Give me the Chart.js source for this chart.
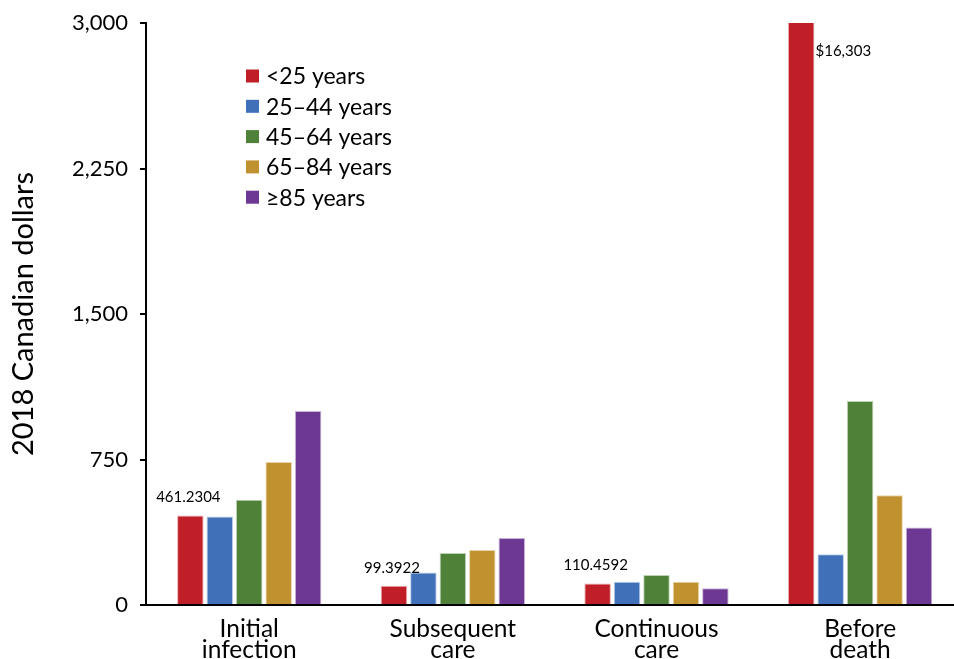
<!DOCTYPE html>
<html>
<head>
<meta charset="utf-8">
<script src="https://cdn.jsdelivr.net/npm/chart.js@4/dist/chart.umd.min.js"></script>
<style>
  html, body { margin: 0; padding: 0; background: #fff; }
  #wrap { width: 954px; height: 659px; position: relative; }
</style>
</head>
<body>
<div id="wrap"><canvas id="c" width="954" height="659"></canvas></div>
<script>
// ---- Data ----
const categories = [["Initial", "infection"], ["Subsequent", "care"], ["Continuous", "care"], ["Before", "death"]];
const seriesLabels = ["<25 years", "25\u201344 years", "45\u201364 years", "65\u201384 years", "\u226585 years"];
const under25 = [461.2304, 99.3922, 110.4592, 16303];
const age25to44 = [456, 167, 120, 262];
const age45to64 = [542, 268, 155, 1052];
const age65to84 = [737, 283, 120, 566];
const age85plus = [1000, 345, 86, 400];
const annotationTexts = ["461.2304", "99.3922", "110.4592", "$16,303"];
const yTicks = [0, 750, 1500, 2250, 3000];
const yTitle = "2018 Canadian dollars";

const colors = ["#C01F27", "#4070B8", "#4F8139", "#C0912F", "#6D3794"];
const borders = ["#E8A9AC", "#B9CCE8", "#BCD3B2", "#E9D3AA", "#C9B2DA"];
const seriesValues = [under25, age25to44, age45to64, age65to84, age85plus];

const FONT = "Lato, 'Open Sans', sans-serif";

const datasets = seriesValues.map((vals, s) => ({
  label: seriesLabels[s],
  data: vals.map((v, i) => ({ x: i, y: v })),
  backgroundColor: colors[s],
  borderColor: borders[s],
  borderWidth: 1,
  categoryPercentage: 0.723,
  barPercentage: 0.9
}));

const customLegend = {
  id: 'customLegend',
  afterDraw(chart) {
    const ctx = chart.ctx;
    ctx.save();
    ctx.font = "23px " + FONT;
    ctx.textBaseline = 'middle';
    ctx.textAlign = 'left';
    chart.data.datasets.forEach((ds, i) => {
      const cy = 76 + i * 30.3;
      ctx.fillStyle = ds.backgroundColor;
      ctx.fillRect(246, cy - 6.5, 13, 13);
      ctx.fillStyle = '#000';
      ctx.fillText(ds.label, 266, cy + 1);
    });
    ctx.restore();
  }
};

const annotations = {
  id: 'annotations',
  afterDatasetsDraw(chart) {
    const ctx = chart.ctx;
    const meta = chart.getDatasetMeta(0);
    const area = chart.chartArea;
    ctx.save();
    ctx.font = "15px " + FONT;
    ctx.fillStyle = '#000';
    ctx.textBaseline = 'middle';
    meta.data.forEach((el, i) => {
      const txt = annotationTexts[i];
      if (!txt) return;
      if (el.y < area.top) {
        ctx.textAlign = 'left';
        ctx.fillText(txt, el.x + el.width / 2 + 1, area.top + 28);
      } else {
        ctx.textAlign = 'center';
        ctx.fillText(txt, el.x - 2, el.y - 18);
      }
    });
    ctx.restore();
  }
};

new Chart(document.getElementById('c'), {
  type: 'bar',
  data: { datasets },
  options: {
    responsive: false,
    animation: false,
    layout: { padding: { top: 22, right: 0, left: 0, bottom: 0 } },
    plugins: { legend: { display: false }, tooltip: { enabled: false } },
    scales: {
      x: {
        type: 'linear',
        offset: false,
        min: -0.507,
        max: 3.461,
        afterBuildTicks(scale) { scale.ticks = categories.map((c, i) => ({ value: i })); },
        afterFit(scale) { scale.height = 54; },
        grid: { display: false },
        border: { display: true, color: '#000', width: 2 },
        ticks: {
          color: '#000',
          font: { family: FONT, size: 24.5, lineHeight: 0.85 },
          padding: 6,
          maxRotation: 0,
          autoSkip: false,
          callback: (v) => categories[v] || ''
        }
      },
      y: {
        min: 0,
        max: 3000,
        afterBuildTicks(scale) { scale.ticks = yTicks.map(v => ({ value: v })); },
        afterFit(scale) { scale.width = 146; },
        grid: { display: true, drawOnChartArea: false, drawTicks: true, tickLength: 6, color: '#000', lineWidth: 2 },
        border: { display: true, color: '#000', width: 2 },
        title: { display: true, text: yTitle, color: '#000', font: { family: FONT, size: 29 }, padding: { top: 6, bottom: 4 } },
        ticks: {
          color: '#000',
          font: { family: FONT, size: 22, lineHeight: 1 },
          padding: 12,
          callback: (v) => v.toLocaleString('en-US')
        }
      }
    }
  },
  plugins: [customLegend, annotations]
});
</script>
</body>
</html>
